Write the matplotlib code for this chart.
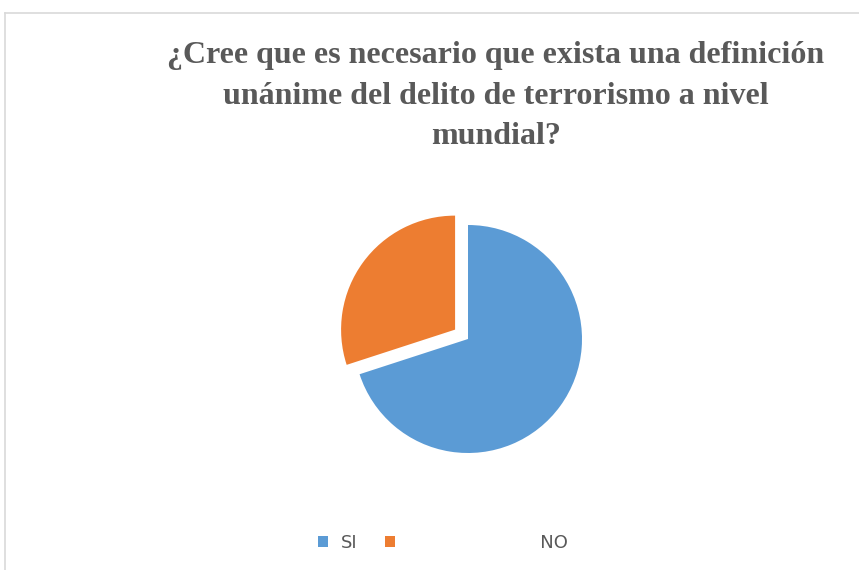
import matplotlib.pyplot as plt
from matplotlib.lines import Line2D

# survey answers
labels = ["SI", "NO"]
values = [70, 30]
colors = ["#5B9BD5", "#ED7D31"]
explode = [0, 0.14]

title = "¿Cree que es necesario que exista una definición\nunánime del delito de terrorismo a nivel\nmundial?"

W, H = 859, 570
fig = plt.figure(figsize=(W / 100, H / 100), dpi=100)

# chart border (only top and left show in the crop)
fig.add_artist(Line2D([5 / W, 1], [1 - 13 / H, 1 - 13 / H], color="#D9D9D9", lw=1.2))
fig.add_artist(Line2D([5 / W, 5 / W], [0, 1 - 13 / H], color="#D9D9D9", lw=1.2))

# pie axes placed around centre (468, 339), radius 114 px
cx, cy, r = 468, 339, 114
lim = 1.25
w, h = 2 * lim * r / W, 2 * lim * r / H
ax = fig.add_axes([cx / W - w / 2, 1 - cy / H - h / 2, w, h])
wedges, _ = ax.pie(values, colors=colors, explode=explode, startangle=90,
                   counterclock=False, wedgeprops=dict(linewidth=0))
ax.set_xlim(-lim, lim)
ax.set_ylim(-lim, lim)
ax.set_aspect("equal")
ax.axis("off")

fig.text(496 / W, 1 - 96 / H, title, ha="center", va="center",
         fontsize=23, fontweight="bold", family="Liberation Serif",
         color="#595959", linespacing=1.5)

leg = fig.legend(wedges, ["SI", "                       NO"], loc="center",
                 bbox_to_anchor=(443 / W, 1 - 543 / H), ncol=2, frameon=False,
                 handlelength=0.55, handleheight=0.55, handletextpad=0.75,
                 columnspacing=1.5, fontsize=13)
for t in leg.get_texts():
    t.set_color("#595959")

fig.savefig("out.png", dpi=100)
